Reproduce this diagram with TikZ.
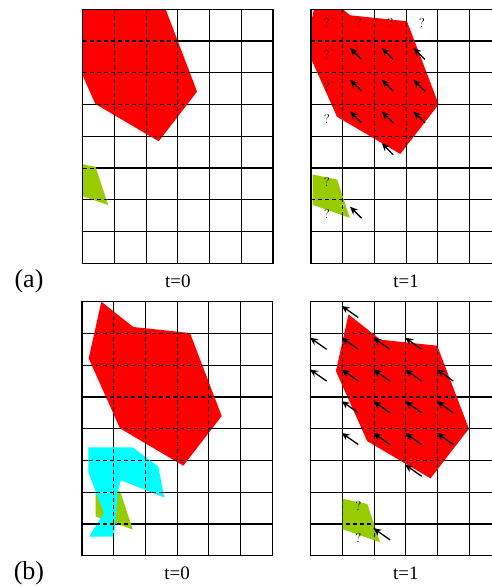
\documentclass[tikz,border=0pt]{standalone}
\usepackage{fontspec}
\newfontfamily\tnr{Liberation Serif}
\usetikzlibrary{arrows.meta}
\definecolor{objred}{RGB}{255,0,0}
\definecolor{objgreen}{RGB}{153,204,0}
\definecolor{objcyan}{RGB}{0,255,255}
\tikzset{
  gridline/.style={line width=1.2pt, black},
  dashline/.style={line width=1.1pt, black, dash pattern=on 4pt off 3pt},
  mv/.style={-{Stealth[length=8pt,width=7pt]}, line width=1.3pt},
  qs/.style={font=\fontsize{13}{15}\selectfont, inner sep=0pt},
  lab/.style={font=\tnr\fontsize{19}{22}\selectfont, anchor=base, inner sep=0pt},
  sublab/.style={font=\tnr\fontsize{26}{30}\selectfont, anchor=base, inner sep=0pt},
}
\newcommand\gridall[1]{%
  \foreach \i in {0,...,6} {\draw[#1] ({\i*31.7},0) -- ({\i*31.7},254);}%
  \foreach \j in {0,...,8} {\draw[#1] (0,{\j*31.75}) -- (190.2,{\j*31.75});}%
}
\def\redpath{(19.3,0) -- (51.3,25.3) -- (108,31.3) -- (139.7,114.3) -- (101.3,164) -- (38,126.7) -- (6.7,56.7) -- cycle}
\def\greenpath{(13.5,184.5) -- (38.1,189.5) -- (50.8,227.8) -- (13.5,214.8) -- cycle}
\def\cyanpath{(6.3,145.6) -- (50.5,145.6) -- (76.3,164.8) -- (82.3,195.8) -- (39,178.6) -- (36,189.3) -- (32,235) -- (7,235) -- (22,211.3) -- (6.3,170.6) -- cycle}
\begin{document}
\begin{tikzpicture}[x=1pt,y=-1pt]
\useasboundingbox (0,0) rectangle (492,586);
\clip (0,0) rectangle (492,586);

% ---------- (a) t=0 ----------
\begin{scope}[shift={(82.7,9.3)}]
  \gridall{gridline}
  \begin{scope}
    \clip (0,0) rectangle (190.2,254);
    \fill[objred, shift={(-25.3,-32)}] \redpath;
    \fill[objgreen, shift={(-25.3,-32)}] \greenpath;
  \end{scope}
  \begin{scope}
    \clip[shift={(-25.3,-32)}] \redpath;
    \gridall{dashline}
  \end{scope}
  \begin{scope}
    \clip[shift={(-25.3,-32)}] \greenpath;
    \gridall{dashline}
  \end{scope}
  \draw[gridline] (0,0) rectangle (190.2,254);
  \node[lab] (la0) at (95.1,277.7) {t=0};
\end{scope}

% ---------- (a) t=1 ----------
\begin{scope}[shift={(311,9.3)}]
  \gridall{gridline}
  \begin{scope}
    \clip (0,0) rectangle (190.2,254);
    \fill[objred, shift={(-12,-19.3)}] \redpath;
    \fill[objgreen, shift={(-12,-19.3)}] \greenpath;
  \end{scope}
  \begin{scope}
    \clip[shift={(-12,-19.3)}] \redpath;
    \gridall{dashline}
  \end{scope}
  \begin{scope}
    \clip[shift={(-12,-19.3)}] \greenpath;
    \gridall{dashline}
  \end{scope}
  \draw[gridline] (0,0) rectangle (190.2,254);
  \foreach \c/\r in {1/1,2/1,3/1,1/2,2/2,3/2,1/3,2/3,3/3,2/4,1/6}
    {\draw[mv] ({(\c+0.5)*31.7+3},{(\r+0.5)*31.75+2.5}) -- ++(-11.5,-11.5);}
  \foreach \c/\r in {0/0,1/0,2/0,3/0,0/1,0/2,0/3,0/5,0/6}
    {\node[qs] at ({(\c+0.5)*31.7},{(\r+0.5)*31.75-2}) {?};}
  \node[lab] (la1) at (95.1,277.7) {t=1};
\end{scope}

% ---------- (b) t=0 ----------
\begin{scope}[shift={(82,301.7)}]
  \gridall{gridline}
  \begin{scope}
    \clip (0,0) rectangle (190.2,254);
    \fill[objred] \redpath;
    \fill[objgreen] \greenpath;
    \fill[objcyan] \cyanpath;
  \end{scope}
  \begin{scope}
    \clip \redpath;
    \gridall{dashline}
  \end{scope}
  \begin{scope}
    \clip \greenpath;
    \gridall{dashline}
  \end{scope}
  \begin{scope}
    \clip \cyanpath;
    \gridall{dashline}
  \end{scope}
  \draw[gridline] (0,0) rectangle (190.2,254);
  \node[lab] (lb0) at (95.1,277.7) {t=0};
\end{scope}

% ---------- (b) t=1 ----------
\begin{scope}[shift={(310.7,301.7)}]
  \gridall{gridline}
  \begin{scope}
    \clip (0,0) rectangle (190.2,254);
    \fill[objred, shift={(18.5,12.7)}] \redpath;
    \fill[objgreen, shift={(18.5,12.7)}] \greenpath;
  \end{scope}
  \begin{scope}
    \clip[shift={(18.5,12.7)}] \redpath;
    \gridall{dashline}
  \end{scope}
  \begin{scope}
    \clip[shift={(18.5,12.7)}] \greenpath;
    \gridall{dashline}
  \end{scope}
  \draw[gridline] (0,0) rectangle (190.2,254);
  \foreach \c/\r in {1/0,0/1,1/1,2/1,3/1,0/2,1/2,2/2,3/2,4/2,1/3,2/3,3/3,4/3,1/4,2/4,3/4,4/4,3/5,2/7}
    {\draw[mv] ({(\c+0.5)*31.7},{(\r+0.5)*31.75}) -- ++(-16.6,-11.7);}
  \foreach \c/\r in {1/6,1/7}
    {\node[qs] at ({(\c+0.5)*31.7},{(\r+0.5)*31.75-2}) {?};}
  \node[lab] (lb1) at (95.1,277.7) {t=1};
\end{scope}

\node[sublab] (suba) at (29,287) {(a)};
\node[sublab] (subb) at (29,579.3) {(b)};
\end{tikzpicture}
\end{document}
